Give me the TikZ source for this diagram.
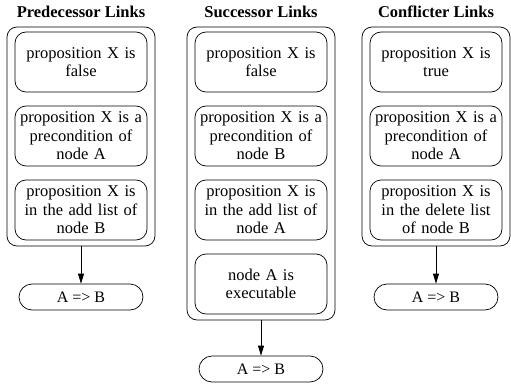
\documentclass[tikz,border=0pt]{standalone}
\usepackage{fontspec}
\setmainfont{Liberation Serif}
\usetikzlibrary{arrows.meta}
\tikzset{
  inbox/.style={draw=black, line width=0.7pt, rounded corners=11pt, minimum width=132pt, minimum height=60pt, text width=130pt, align=center, inner sep=0pt, font=\fontsize{16.5}{18.5}\selectfont},
  outbox/.style={draw=black, line width=0.7pt, rounded corners=10pt, minimum width=148pt, inner sep=0pt},
  oval/.style={draw=black, line width=0.7pt, rounded corners=13pt, minimum width=124pt, minimum height=26pt, inner sep=0pt, font=\fontsize{16}{18}\selectfont},
  title/.style={font=\bfseries\fontsize{16.5}{18}\selectfont, inner sep=0pt},
  link/.style={draw=black, line width=0.7pt, -{Triangle[length=10pt,width=6pt]}}
}
\begin{document}
\begin{tikzpicture}[x=1pt,y=-1pt]
\useasboundingbox (0,0) rectangle (511,385);
% titles
\node[title] (t1) at (81,12) {Predecessor Links};
\node[title] (t2) at (261,12) {Successor Links};
\node[title] (t3) at (436,12) {Conflicter Links};
% outer boxes
\node[outbox, minimum height=219pt] (o1) at (81,136.5) {};
\node[outbox, minimum height=293pt] (o2) at (261,173.5) {};
\node[outbox, minimum height=219pt] (o3) at (436,136.5) {};
% column 1
\node[inbox] (p1) at (81,62) {proposition X is\\false};
\node[inbox] (p2) at (81,136) {proposition X is a\\precondition of\\node A};
\node[inbox] (p3) at (81,210) {proposition X is\\in the add list of\\node B};
% column 2
\node[inbox] (s1) at (261,62) {proposition X is\\false};
\node[inbox] (s2) at (261,136) {proposition X is a\\precondition of\\node B};
\node[inbox] (s3) at (261,210) {proposition X is\\in the add list of\\node A};
\node[inbox] (s4) at (261,284) {node A is\\executable};
% column 3
\node[inbox] (c1) at (436,62) {proposition X is\\true};
\node[inbox] (c2) at (436,136) {proposition X is a\\precondition of\\node A};
\node[inbox] (c3) at (436,210) {proposition X is\\in the delete list\\of node B};
% results
\node[oval] (r1) at (81,297) {A => B};
\node[oval] (r2) at (261,369) {A => B};
\node[oval] (r3) at (436,297) {A => B};
% arrows
\draw[link] (o1.south) -- (r1.north);
\draw[link] (o2.south) -- (r2.north);
\draw[link] (o3.south) -- (r3.north);
\end{tikzpicture}
\end{document}
